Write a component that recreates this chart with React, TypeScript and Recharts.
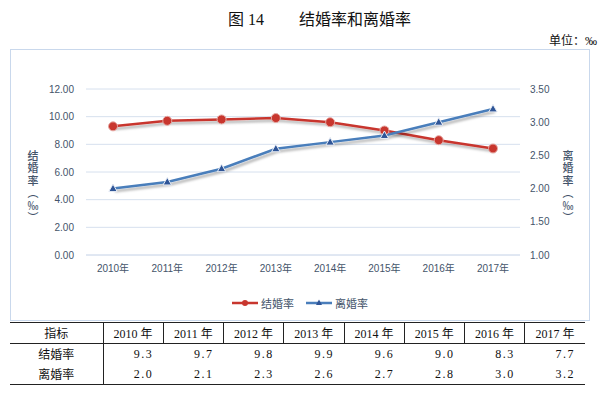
import { CartesianGrid, Legend, Line, LineChart, XAxis, YAxis } from "recharts";

const years = ["2010年", "2011年", "2012年", "2013年", "2014年", "2015年", "2016年", "2017年"];
const marriage = [9.3, 9.7, 9.8, 9.9, 9.6, 9.0, 8.3, 7.7];
const divorce = [2.0, 2.1, 2.3, 2.6, 2.7, 2.8, 3.0, 3.2];
const leftTicks = [0, 2, 4, 6, 8, 10, 12];
const rightTicks = [1, 1.5, 2, 2.5, 3, 3.5];
const tableYears = ["2010 年", "2011 年", "2012 年", "2013 年", "2014 年", "2015 年", "2016 年", "2017 年"];

const data = years.map((year, i) => ({ year, marriage: marriage[i], divorce: divorce[i] }));

const RED = "#C8362E";
const BLUE = "#4A7EBB";
const TICK = "#44546A";
const GRID = "#D6E0EE";
const chartFont = "'Liberation Sans', 'Noto Sans CJK SC', sans-serif";
const serifFont = "'Liberation Serif', 'DejaVu Serif', 'Noto Sans CJK SC', serif";

const RedDot = (props: any) => {
    const { cx, cy } = props;
    if (cx == null || cy == null) return null;
    return <circle cx={cx} cy={cy} r={4.5} fill={RED} stroke="#E6A9A4" strokeWidth={1} />;
};

const BlueDot = (props: any) => {
    const { cx, cy } = props;
    if (cx == null || cy == null) return null;
    return (
        <path
            d={`M${cx},${cy - 4.5}L${cx + 4.2},${cy + 3}L${cx - 4.2},${cy + 3}Z`}
            fill="#2F5597"
            stroke="#E9EEF6"
            strokeWidth={1}
        />
    );
};

const LegendBox = () => (
    <div
        style={{
            height: 16,
            display: "flex",
            justifyContent: "center",
            alignItems: "center",
            gap: 12,
            fontFamily: chartFont,
            fontSize: 11,
            color: TICK,
        }}
    >
        <span style={{ display: "flex", alignItems: "center", gap: 3 }}>
            <svg width={26} height={10}>
                <line x1={0} y1={5} x2={26} y2={5} stroke={RED} strokeWidth={2.5} />
                <circle cx={13} cy={5} r={3} fill={RED} />
            </svg>
            结婚率
        </span>
        <span style={{ display: "flex", alignItems: "center", gap: 3 }}>
            <svg width={26} height={10}>
                <line x1={0} y1={5} x2={26} y2={5} stroke={BLUE} strokeWidth={2.5} />
                <path d="M13,1.5L16,7L10,7Z" fill="#2F5597" />
            </svg>
            离婚率
        </span>
    </div>
);

// vertical axis title written top to bottom
const VLabel = ({ text, left }: { text: string; left: number }) => (
    <div
        style={{
            position: "absolute",
            left,
            top: 100,
            writingMode: "vertical-rl",
            textOrientation: "upright",
            fontFamily: "'Noto Sans CJK SC', sans-serif",
            fontSize: 11,
            lineHeight: "16px",
            letterSpacing: 1.5,
            color: TICK,
            fontWeight: 500,
            whiteSpace: "nowrap",
        }}
    >
        {text}
    </div>
);

const cell: React.CSSProperties = { padding: 0, fontWeight: "normal" };

export default function App() {
    return (
        <div style={{ position: "relative", width: 600, height: 390, color: "#111" }}>
            <div
                style={{
                    position: "absolute",
                    left: 220,
                    top: 2,
                    fontFamily: serifFont,
                    fontSize: 16,
                    lineHeight: "20px",
                    whiteSpace: "nowrap",
                }}
            >
                图 14
            </div>
            <div
                style={{
                    position: "absolute",
                    left: 291,
                    top: 2,
                    fontFamily: serifFont,
                    fontSize: 16,
                    lineHeight: "20px",
                    whiteSpace: "nowrap",
                }}
            >
                结婚率和离婚率
            </div>
            <div
                style={{
                    position: "absolute",
                    left: 541,
                    top: 25,
                    fontFamily: serifFont,
                    fontSize: 12,
                    lineHeight: "16px",
                    whiteSpace: "nowrap",
                }}
            >
                单位：‰
            </div>

            <div
                style={{
                    position: "absolute",
                    left: 2,
                    top: 41,
                    width: 578,
                    height: 270,
                    border: "1px solid #C9D8EC",
                    background: "#fff",
                }}
            >
                <LineChart
                    width={578}
                    height={270}
                    data={data}
                    margin={{ top: 39, right: 0, left: 0, bottom: 19 }}
                >
                    <defs>
                        <filter id="shadow" x="-10%" y="-30%" width="120%" height="160%">
                            <feDropShadow dx={2} dy={2.5} stdDeviation={1.3} floodColor="#000" floodOpacity={0.3} />
                        </filter>
                    </defs>
                    <CartesianGrid vertical={false} stroke={GRID} />
                    <XAxis
                        dataKey="year"
                        height={30}
                        padding={{ left: 27, right: 27 }}
                        tickLine={false}
                        axisLine={{ stroke: GRID }}
                        tickMargin={4}
                        tick={{ fill: TICK, fontSize: 10, fontFamily: chartFont }}
                        interval={0}
                    />
                    <YAxis
                        width={75}
                        domain={[0, 12]}
                        ticks={leftTicks}
                        tickFormatter={(v: number) => v.toFixed(2)}
                        tickLine={false}
                        axisLine={false}
                        tickMargin={6}
                        tick={{ fill: TICK, fontSize: 10, fontFamily: chartFont }}
                    />
                    <YAxis
                        yAxisId="right"
                        orientation="right"
                        width={69}
                        domain={[1, 3.5]}
                        ticks={rightTicks}
                        tickFormatter={(v: number) => v.toFixed(2)}
                        tickLine={false}
                        axisLine={false}
                        tickMargin={4}
                        tick={{ fill: TICK, fontSize: 10, fontFamily: chartFont, textAnchor: "start" }}
                    />
                    <Legend verticalAlign="bottom" wrapperStyle={{ bottom: 9 }} content={<LegendBox />} />
                    <Line
                        dataKey="marriage"
                        stroke={RED}
                        strokeWidth={2.5}
                        dot={<RedDot />}
                        activeDot={false}
                        style={{ filter: "url(#shadow)" }}
                        isAnimationActive={false}
                    />
                    <Line
                        yAxisId="right"
                        dataKey="divorce"
                        stroke={BLUE}
                        strokeWidth={2.5}
                        dot={<BlueDot />}
                        activeDot={false}
                        style={{ filter: "url(#shadow)" }}
                        isAnimationActive={false}
                    />
                </LineChart>
                <VLabel text="结婚率（‰）" left={14} />
                <VLabel text="离婚率（‰）" left={549} />
            </div>

            <table
                style={{
                    position: "absolute",
                    left: 2,
                    top: 314,
                    width: 575,
                    borderCollapse: "collapse",
                    tableLayout: "fixed",
                    fontFamily: serifFont,
                    fontSize: 12,
                    color: "#111",
                }}
            >
                <colgroup>
                    <col style={{ width: 93 }} />
                    {tableYears.map((y) => (
                        <col key={y} style={{ width: 60.25 }} />
                    ))}
                </colgroup>
                <thead>
                    <tr style={{ height: 21, borderTop: "1.5px solid #222", borderBottom: "1px solid #222" }}>
                        <th style={{ ...cell, textAlign: "center" }}>指标</th>
                        {tableYears.map((y) => (
                            <th key={y} style={{ ...cell, textAlign: "center", borderLeft: "1px solid #222" }}>
                                {y}
                            </th>
                        ))}
                    </tr>
                </thead>
                <tbody>
                    <tr style={{ height: 21 }}>
                        <td style={{ ...cell, textAlign: "center" }}>结婚率</td>
                        {marriage.map((v, i) => (
                            <td
                                key={i}
                                style={{
                                    ...cell,
                                    textAlign: "right",
                                    paddingRight: 10,
                                    letterSpacing: 1.5,
                                    borderLeft: i === 0 ? "1px solid #222" : "none",
                                }}
                            >
                                {v.toFixed(1)}
                            </td>
                        ))}
                    </tr>
                    <tr style={{ height: 20, borderBottom: "1.5px solid #222" }}>
                        <td style={{ ...cell, textAlign: "center" }}>离婚率</td>
                        {divorce.map((v, i) => (
                            <td
                                key={i}
                                style={{
                                    ...cell,
                                    textAlign: "right",
                                    paddingRight: 10,
                                    letterSpacing: 1.5,
                                    borderLeft: i === 0 ? "1px solid #222" : "none",
                                }}
                            >
                                {v.toFixed(1)}
                            </td>
                        ))}
                    </tr>
                </tbody>
            </table>
        </div>
    );
}
